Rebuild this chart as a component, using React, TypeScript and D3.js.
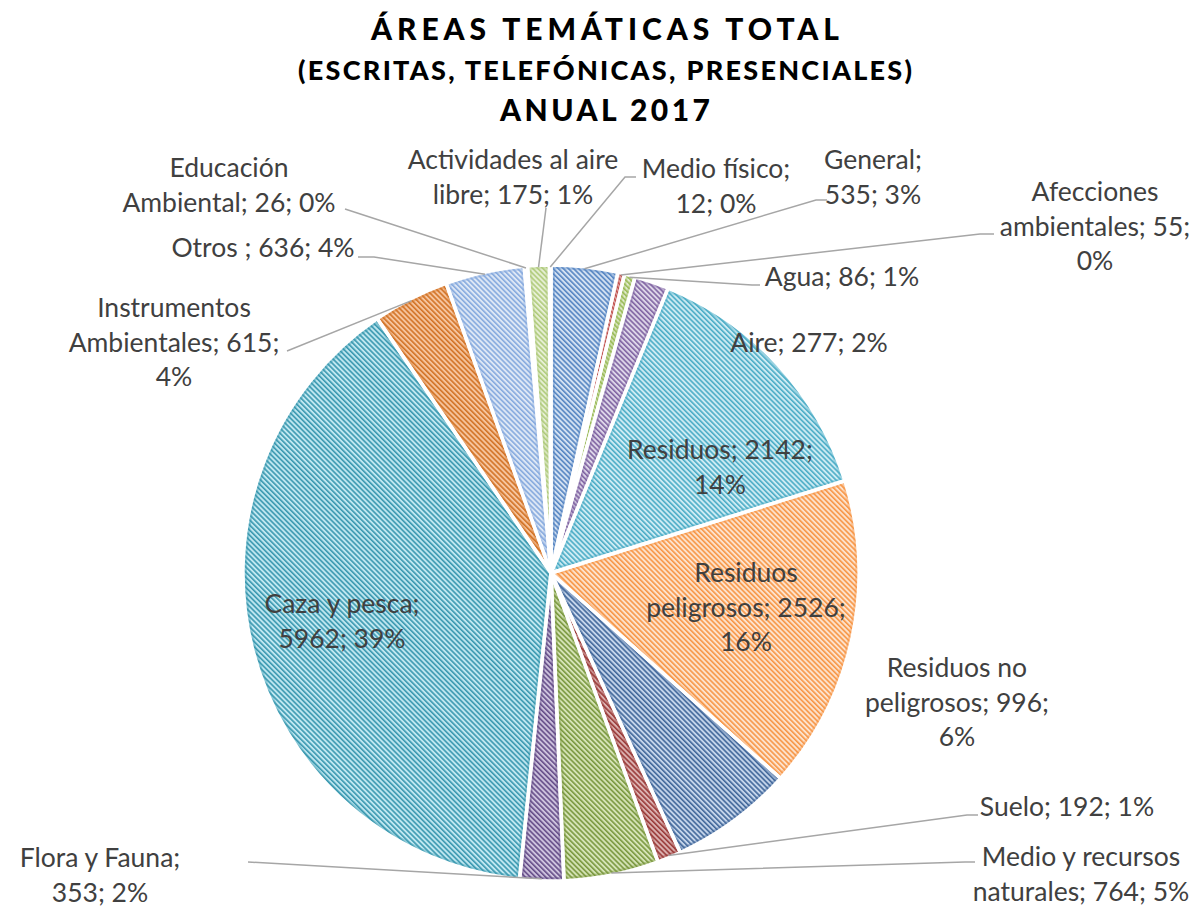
import * as d3 from "d3";

// slices, clockwise from 12 o'clock
const categories = [
  "General",
  "Afecciones ambientales",
  "Agua",
  "Aire",
  "Residuos",
  "Residuos peligrosos",
  "Residuos no peligrosos",
  "Suelo",
  "Medio y recursos naturales",
  "Flora y Fauna",
  "Caza y pesca",
  "Instrumentos Ambientales",
  "Otros ",
  "Educación Ambiental",
  "Actividades al aire libre",
  "Medio físico",
];
const values = [535, 55, 86, 277, 2142, 2526, 996, 192, 764, 353, 5962, 615, 636, 26, 175, 12];

const titleLines = [
  "ÁREAS TEMÁTICAS TOTAL",
  "(ESCRITAS, TELEFÓNICAS, PRESENCIALES)",
  "ANUAL 2017",
];

// pattern colours: [stripe, background]
const swatches: [string, string][] = [
  ["#5585c2", "#d3e1f2"],
  ["#c0504d", "#efd3d2"],
  ["#9bbb59", "#e3edd0"],
  ["#8064a2", "#ddd5e8"],
  ["#4bacc6", "#cdebf3"],
  ["#f79646", "#fde2cc"],
  ["#41679a", "#c4d4ea"],
  ["#9a3b39", "#dcb2b1"],
  ["#7a983f", "#d5e3b6"],
  ["#654d88", "#cdc2dd"],
  ["#3a98b0", "#bfe7f0"],
  ["#d27326", "#f6c49d"],
  ["#86aade", "#dde7f5"],
  ["#d5817e", "#f3dcdb"],
  ["#b0cb7c", "#e6efd5"],
  ["#a08bbb", "#e5dfee"],
];

// label layout: centre x, first line centre y, words per line, leader polyline (label side)
const labelLayout: { x: number; y: number; breaks: number[]; leader?: [number, number][] }[] = [
  { x: 873, y: 160, breaks: [1, 2], leader: [[827, 200], [816, 200]] },
  { x: 1095, y: 192, breaks: [1, 2, 1], leader: [[994, 234], [980, 234]] },
  { x: 842, y: 277, breaks: [3], leader: [[760, 285], [752, 285]] },
  { x: 809, y: 343, breaks: [3] },
  { x: 720, y: 450, breaks: [2, 1] },
  { x: 746, y: 573, breaks: [1, 2, 1] },
  { x: 957, y: 668, breaks: [2, 2, 1] },
  { x: 1067, y: 807, breaks: [3], leader: [[978, 815], [967, 815]] },
  { x: 1081, y: 857, breaks: [3, 3], leader: [[975, 862], [965, 862]] },
  { x: 100, y: 858, breaks: [3, 2], leader: [[248, 862]] },
  { x: 342, y: 604, breaks: [3, 2] },
  { x: 174, y: 308, breaks: [1, 2, 1], leader: [[287, 351]] },
  { x: 263, y: 248, breaks: [4], leader: [[358, 257], [374, 257]] },
  { x: 229, y: 168, breaks: [1, 3], leader: [[345, 209]] },
  { x: 513, y: 160, breaks: [3, 3], leader: [[546, 208]] },
  { x: 716, y: 169, breaks: [2, 2], leader: [[636, 177], [625, 177]] },
];

const W = 1198;
const H = 908;
const cx = 551;
const cy = 573;
const R = 308;
const lineH = 34.5;
const font = "Lato, 'Open Sans', sans-serif";

export default function App() {
  const total = d3.sum(values);
  const pie = d3
    .pie<number>()
    .sort(null)
    .value((d) => d);
  const arcs = pie(values);
  const arc = d3.arc<d3.PieArcDatum<number>>().innerRadius(0).outerRadius(R);
  const edge = d3.arc<d3.PieArcDatum<number>>().innerRadius(R - 2).outerRadius(R - 2);

  const labels = arcs.map((a, i) => {
    const pct = Math.round((values[i] / total) * 100);
    const words = `${categories[i]}; ${values[i]}; ${pct}%`.split(/\s+/);
    const lines: string[] = [];
    let k = 0;
    labelLayout[i].breaks.forEach((n) => {
      lines.push(words.slice(k, k + n).join(" "));
      k += n;
    });
    return lines;
  });

  return (
    <svg
      width={W}
      height={H}
      style={{ position: "absolute", left: 0, top: 0, display: "block", background: "#fff" }}
    >
      <defs>
        {swatches.map(([fg, bg], i) => (
          <pattern
            key={i}
            id={`hatch${i}`}
            patternUnits="userSpaceOnUse"
            width={3.6}
            height={3.6}
            patternTransform="rotate(-45)"
          >
            <rect width={3.6} height={3.6} fill={bg} />
            <rect width={1.6} height={3.6} fill={fg} />
          </pattern>
        ))}
        {arcs.map((a, i) => (
          <clipPath key={i} id={`clip${i}`}>
            <path d={arc(a)!} transform={`translate(${cx},${cy})`} />
          </clipPath>
        ))}
      </defs>

      {titleLines.map((t, i) => (
        <text
          key={t}
          x={W / 2 + 6}
          y={[29, 71, 110][i]}
          dy="0.35em"
          textAnchor="middle"
          fontFamily={font}
          fontWeight={900}
          fontSize={[30, 27, 30][i]}
          textLength={[468, 614, 210][i]}
          lengthAdjust="spacing"
          fill="#000"
        >
          {t}
        </text>
      ))}

      {arcs.map((a, i) => (
        <g key={i} clipPath={`url(#clip${i})`}>
          <g transform={`translate(${cx},${cy})`}>
            <path d={arc(a)!} fill={`url(#hatch${i})`} />
            <path d={arc(a)!} fill="none" stroke={swatches[i][0]} strokeOpacity={0.4} strokeWidth={8} />
          </g>
        </g>
      ))}
      <g transform={`translate(${cx},${cy})`}>
        {arcs.map((a, i) => (
          <path key={i} d={arc(a)!} fill="none" stroke="#fff" strokeWidth={3.5} strokeLinejoin="round" />
        ))}
      </g>

      {arcs.map((a, i) => {
        const lay = labelLayout[i];
        if (!lay.leader) return null;
        const [ex, ey] = edge.centroid(a);
        const pts = [[ex + cx, ey + cy], ...lay.leader.slice().reverse()];
        return (
          <polyline
            key={i}
            points={pts.map((p) => p.join(",")).join(" ")}
            fill="none"
            stroke="#a6a6a6"
            strokeWidth={1.5}
          />
        );
      })}

      {labels.map((lines, i) => (
        <text
          key={i}
          textAnchor="middle"
          fontFamily={font}
          fontSize={26.5}
          fill="#404040"
        >
          {lines.map((l, j) => (
            <tspan key={j} x={labelLayout[i].x} y={labelLayout[i].y + j * lineH} dy="0.35em">
              {l}
            </tspan>
          ))}
        </text>
      ))}
    </svg>
  );
}
